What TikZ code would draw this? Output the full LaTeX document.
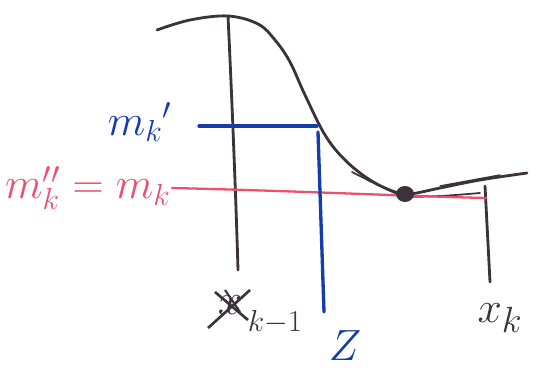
\documentclass[tikz,border=0pt]{standalone}
\usepackage{fontspec}
\setmainfont{DejaVu Sans}
\definecolor{ink}{RGB}{60,50,60}
\definecolor{bpen}{RGB}{20,60,170}
\definecolor{rpen}{RGB}{235,80,110}
\tikzset{
  blk/.style={draw=ink,line width=1.6pt,line cap=round,line join=round},
  blu/.style={draw=bpen,line width=1.9pt,line cap=round},
  pnk/.style={draw=rpen,line width=1.3pt,line cap=round},
  lbl/.style={inner sep=0pt,font=\fontsize{25}{30}\selectfont}
}
\begin{document}
\begin{tikzpicture}[x=0.02cm,y=-0.02cm]
\useasboundingbox (0,0) rectangle (558,381);
% curve
\draw[blk] plot[smooth,tension=0.6] coordinates {(157,30) (190,20) (228,16) (258,24) (275,40) (290,62) (305,95) (325,135) (345,160) (370,180) (395,192) (410,194) (440,188) (480,180) (527,173)};
\draw[blk,line width=1pt] plot[smooth] coordinates {(352,172) (380,186) (405,196) (440,196) (480,193)};
\draw[blk,line width=0.8pt] (440,186) -- (500,175);
% verticals
\coordinate (top) at (228,16);
\coordinate (bl) at (238,270);
\draw[blk] (top) .. controls (232,100) and (236,200) .. (bl);
\coordinate (xkt) at (485,186);
\coordinate (xkb) at (490,282);
\draw[blk] (xkt) -- (xkb);
% pink
\coordinate (p1) at (172,188);
\coordinate (p2) at (486,198);
\draw[pnk] (p1) .. controls (300,191) and (400,196) .. (p2);
% blue
\coordinate (b1) at (199,126);
\coordinate (b2) at (317,126);
\coordinate (b3) at (318,132);
\coordinate (b4) at (324,312);
\draw[blu] (b1) -- (b2);
\draw[blu] (b3) -- (b4);
% dot
\fill[ink] (405,194) ellipse (9 and 8);
% labels
\node[lbl,text=bpen] (mk1) at (140,122) {$m_k{}'$};
\node[lbl,text=rpen] (mk2) at (88,188) {$m_k'' = m_k$};
\node[lbl,text=ink,font=\fontsize{34}{38}\selectfont] (xkm) at (230,305) {$x$};
\draw[ink,line width=1.5pt] (208,328) -- (250,290);
\draw[ink,line width=1.5pt] (215,292) -- (248,320);
\draw[ink,line width=1.2pt] (225,290) -- (240,312);
\node[lbl,text=ink,font=\fontsize{18}{20}\selectfont] (km1) at (275,322) {$k{-}1$};
\node[lbl,text=bpen,font=\fontsize{28}{32}\selectfont] (z) at (345,346) {$Z$};
\node[lbl,text=ink,font=\fontsize{28}{32}\selectfont] (xk) at (500,318) {$x_k$};
\end{tikzpicture}
\end{document}
